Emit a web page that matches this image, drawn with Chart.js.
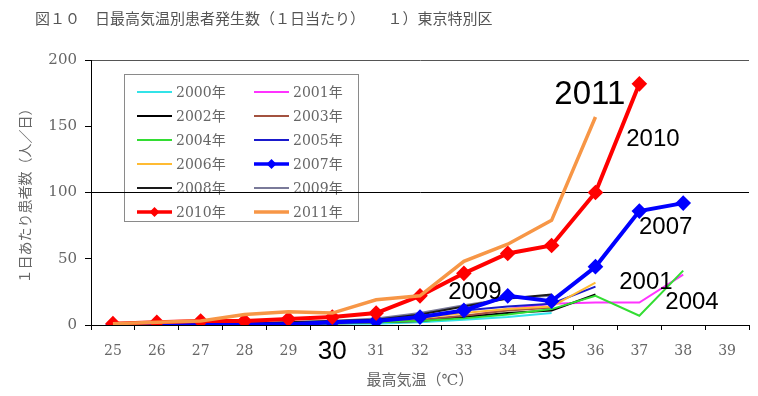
<!DOCTYPE html>
<html lang="ja">
<head>
  <meta charset="UTF-8" />
  <title>日最高気温別患者発生数</title>
  <style>
    body { margin: 0; background: #fff; }
    canvas { display: block; }
  </style>
</head>
<body>
  <canvas id="graficoCalor" width="758" height="396"></canvas>

  <script src="https://cdn.jsdelivr.net/npm/chart.js"></script>
  <script>
    // 最高気温（℃）
    const temps = ['25', '26', '27', '28', '29', '30', '31', '32', '33', '34', '35', '36', '37', '38', '39'];
    const yTicks = [0, 50, 100, 150, 200];

    // 1日あたり患者数（人／日）
    const y2000 = [0, 0, 0, 0, 0.5, 1, 1, 2, 4, 6, 9, null, null, null, null];
    const y2001 = [0, 0, 0, 0.5, 1, 1, 2, 3, 6, 12, 16, 17, 17, 38, null];
    const y2002 = [0, 0, 0, 0.5, 1, 1.5, 2, 3, 6, 9, 11, 23, null, null, null];
    const y2003 = [0, 0, 0, 0.5, 1, 1.5, 2, 4, 7, 11, 13, null, null, null, null];
    const y2004 = [0, 0, 0, 0.5, 1, 1, 2, 3, 5, 8, 12, 22, 7, 41, null];
    const y2005 = [0, 0, 0.5, 1, 1.5, 2, 3, 6, 11, 14, 16, 29, null, null, null];
    const y2006 = [0, 0, 0.5, 1, 1.5, 2, 3, 5, 9, 12, 14, 32, null, null, null];
    const y2007 = [0, 0, 0, 0.5, 0.5, 2, 3, 6, 11, 22, 18, 44, 86, 92, null];
    const y2008 = [0, 0, 0.5, 1, 2, 3, 4, 8, 14, 20, 23, null, null, null, null];
    const y2009 = [0, 0, 0.5, 1, 2, 3, 5, 9, 15, 20, 22, null, null, null, null];
    const y2010 = [1, 2, 3, 3, 4.5, 6, 9, 22, 39, 54, 60, 100, 182, null, null];
    const y2011 = [1, 2, 3, 8, 10, 9, 19, 22, 48, 61, 79, 157, null, null, null];

    const SERIF = '"DejaVu Serif", "Noto Sans CJK JP", serif';
    const SANS = '"Liberation Sans", Arial, sans-serif';
    const bigTicks = ['30', '35'];

    function serie(label, data, color, width, order, marker) {
      return {
        label: label,
        data: data,
        borderColor: color,
        backgroundColor: color,
        borderWidth: width,
        pointRadius: marker ? 5 : 0,
        pointStyle: 'rectRot',
        pointBackgroundColor: color,
        pointBorderColor: color,
        tension: 0,
        spanGaps: false,
        order: order,
      };
    }

    // leyenda 2 columnas dentro del área, y etiquetas de año sobre las líneas
    const extras = {
      id: 'extras',
      beforeDraw(chart) {
        const ctx = chart.ctx;
        ctx.save();
        ctx.fillStyle = '#555';
        ctx.font = '15px "Noto Sans CJK JP", sans-serif';
        ctx.textBaseline = 'middle';
        ctx.fillText('図１０　日最高気温別患者発生数（１日当たり）　　１）東京特別区', 35, 18);

        ctx.fillStyle = '#fff';
        ctx.fillRect(124, 75, 234, 147);
        ctx.strokeStyle = '#8a8a8a';
        ctx.lineWidth = 1;
        ctx.strokeRect(124.5, 74.5, 234, 147);

        chart.data.datasets.forEach((ds, i) => {
          const col = i % 2;
          const row = Math.floor(i / 2);
          const x0 = 137 + col * 117;
          const y = 92 + row * 24;
          ctx.strokeStyle = ds.borderColor;
          ctx.lineWidth = Math.min(ds.borderWidth, 3.5);
          ctx.beginPath();
          ctx.moveTo(x0, y);
          ctx.lineTo(x0 + 35, y);
          ctx.stroke();
          if (ds.pointRadius > 0) {
            ctx.fillStyle = ds.borderColor;
            ctx.beginPath();
            ctx.moveTo(x0 + 17.5, y - 5);
            ctx.lineTo(x0 + 22.5, y);
            ctx.lineTo(x0 + 17.5, y + 5);
            ctx.lineTo(x0 + 12.5, y);
            ctx.closePath();
            ctx.fill();
          }
          ctx.fillStyle = '#666';
          ctx.font = '14px ' + SERIF;
          ctx.textAlign = 'left';
          ctx.fillText(ds.label, x0 + 39, y + 1);
        });
        ctx.restore();
      },
      afterDraw(chart) {
        const notas = [
          ['2011', 35.87, 174, 33],
          ['2010', 37.31, 140, 24],
          ['2007', 37.6, 74, 24],
          ['2001', 37.15, 32, 24],
          ['2004', 38.2, 17.4, 24],
          ['2009', 33.25, 25, 24],
        ];
        const ctx = chart.ctx;
        const sx = chart.scales.x;
        const sy = chart.scales.y;
        ctx.save();
        ctx.fillStyle = '#000';
        ctx.textAlign = 'center';
        ctx.textBaseline = 'middle';
        notas.forEach(([txt, t, v, size]) => {
          ctx.font = size + 'px ' + SANS;
          ctx.fillText(txt, sx.getPixelForValue(t - 25), sy.getPixelForValue(v));
        });
        ctx.restore();
      },
    };

    new Chart(document.getElementById('graficoCalor'), {
      type: 'line',
      data: {
        labels: temps,
        datasets: [
          serie('2000年', y2000, '#33e3e8', 2, 10),
          serie('2001年', y2001, '#ff33ff', 2, 9),
          serie('2002年', y2002, '#000000', 2, 8),
          serie('2003年', y2003, '#a3523f', 2, 7),
          serie('2004年', y2004, '#33dd33', 2, 6),
          serie('2005年', y2005, '#1a1acc', 2, 5),
          serie('2006年', y2006, '#ffbb33', 2, 4),
          serie('2007年', y2007, '#0000ff', 4, 2, true),
          serie('2008年', y2008, '#1a1a1a', 2, 3),
          serie('2009年', y2009, '#7a7a99', 2, 3),
          serie('2010年', y2010, '#ff0000', 4, 1, true),
          serie('2011年', y2011, '#f79646', 3.5, 0),
        ],
      },
      options: {
        responsive: false,
        animation: false,
        layout: { padding: { top: 60, right: 9, left: 0, bottom: 0 } },
        plugins: {
          legend: { display: false },
          tooltip: { enabled: false },
        },
        scales: {
          x: {
            offset: true,
            grid: { color: 'transparent', tickColor: '#000', tickLength: 5, offset: true },
            border: { color: '#000', width: 1 },
            ticks: {
              autoSkip: false,
              maxRotation: 0,
              padding: 13,
              color: c => bigTicks.includes(temps[c.index]) ? '#000' : '#666',
              font: c => bigTicks.includes(temps[c.index])
                ? { family: SANS, size: 26, lineHeight: 0.65 }
                : { family: SERIF, size: 14 },
            },
            title: {
              display: true,
              text: '最高気温（℃）',
              color: '#666',
              font: { family: SERIF, size: 15 },
              padding: { top: 0, bottom: 6 },
            },
            afterFit: s => { s.height = 71; },
          },
          y: {
            min: 0,
            max: 200,
            afterBuildTicks: s => { s.ticks = yTicks.map(v => ({ value: v })); },
            grid: {
              color: c => c.tick && c.tick.value === 200 ? '#555' : (c.tick && c.tick.value === 100 ? '#000' : 'transparent'),
              tickColor: '#000',
              tickLength: 6,
            },
            border: { color: '#000', width: 1 },
            ticks: { padding: 8, color: '#666', font: { family: SERIF, size: 15 } },
            title: {
              display: true,
              text: '１日あたり患者数（人／日）',
              color: '#666',
              font: { family: SERIF, size: 14 },
              padding: { top: 18, bottom: 0 },
            },
            afterFit: s => { s.width = 91; },
          },
        },
      },
      plugins: [extras],
    });
  </script>
</body>
</html>
